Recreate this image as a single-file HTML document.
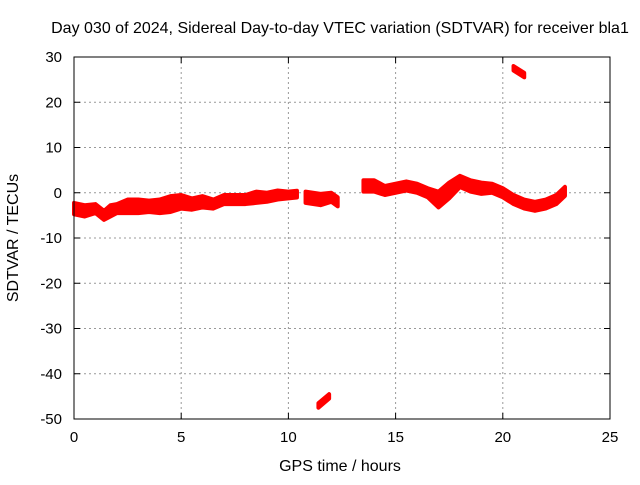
<!DOCTYPE html>
<html><head><meta charset="utf-8"><style>
html,body{margin:0;padding:0;background:#fff;}
svg text{font-family:"Liberation Sans",sans-serif;font-size:15px;fill:#000;}
svg text.big{font-size:16px;}
</style></head><body>
<svg id="chart" width="640" height="480">
<rect x="0" y="0" width="640" height="480" fill="#fff"/>
<g id="grid"></g>
<g id="marks"></g>
<rect x="74" y="57" width="536" height="362" fill="none" stroke="#000" stroke-width="1"/>
<g id="axes"></g>
<text class="big" x="340" y="33" text-anchor="middle">Day 030 of 2024, Sidereal Day-to-day VTEC variation (SDTVAR) for receiver bla1</text>
<text class="big" x="340" y="471" text-anchor="middle">GPS time / hours</text>
<text class="big" x="18" y="238" text-anchor="middle" transform="rotate(-90 18 238)">SDTVAR / TECUs</text>
</svg>
<script>
const xTicks=[0,5,10,15,20,25];
const yTicks=[30,20,10,0,-10,-20,-30,-40,-50];
// segments of [hour, center, spread]
const seg1=[[0,-3.5,2.5],[0.5,-4,2.5],[1.0,-3.5,2],[1.4,-5,2],[1.7,-4,2.5],[2.0,-3.5,2],[2.5,-3,3],[3.0,-3,3],[3.5,-3,2.5],[4.0,-3,3],[4.5,-2.5,3.5],[5.0,-2,3],[5.5,-2.5,2.5],[6.0,-2,2.5],[6.5,-2.5,2],[7.0,-1.5,2],[7.5,-1.5,2],[8.0,-1.5,2],[8.5,-1,2.5],[9.0,-1,2],[9.5,-0.5,2],[10.0,-0.5,1.5],[10.4,-0.3,1.5]];
const seg2=[[10.8,-1,2.5],[11.5,-1.5,2.5],[12.0,-1,2],[12.3,-2,2]];
const seg3=[[13.5,1.5,2.5],[14,1.5,2.5],[14.5,0.5,2],[15,1,2],[15.5,1.5,2],[16,1,2],[16.5,0,2],[17,-1.5,3.5],[17.5,0.5,3.5],[18,2.5,2.5],[18.5,1.5,2.5],[19,1,2.5],[19.5,1,2],[20,0,2],[20.5,-1.5,2],[21,-2.5,2],[21.5,-3,2],[22,-2.5,2],[22.5,-1.5,2],[22.9,0.3,2]];
const seg4=[[20.5,27.5,1],[21.0,26,1]];
const seg5=[[11.4,-47,1],[11.9,-45,1]];
const segments=[seg1,seg2,seg3,seg4,seg5];
const X=v=>74+v*536/25, Y=v=>192.75-v*362/80;
const NS='http://www.w3.org/2000/svg';
const grid=document.getElementById('grid'),axes=document.getElementById('axes'),marks=document.getElementById('marks');
function mk(t,a,p){const e=document.createElementNS(NS,t);for(const k in a)e.setAttribute(k,a[k]);p.appendChild(e);return e;}
xTicks.forEach(t=>{const x=X(t);
 if(t>0&&t<25){const l=mk('line',{x1:x,y1:57,x2:x,y2:419,stroke:'#999','stroke-dasharray':'2,3'},grid);
 
 }
 mk('line',{x1:x,y1:419,x2:x,y2:413,stroke:'#000'},axes);mk('line',{x1:x,y1:57,x2:x,y2:63,stroke:'#000'},axes);
 const tx=mk('text',{x:x,y:442,'text-anchor':'middle'},axes);tx.textContent=t;
 
 });
yTicks.forEach(t=>{const y=Y(t);
 if(t<30&&t>-50){const l=mk('line',{x1:74,y1:y,x2:610,y2:y,stroke:'#999','stroke-dasharray':'2,3'},grid);
 
 }
 mk('line',{x1:74,y1:y,x2:80,y2:y,stroke:'#000'},axes);mk('line',{x1:610,y1:y,x2:604,y2:y,stroke:'#000'},axes);
 const tx=mk('text',{x:62,y:y+5,'text-anchor':'end'},axes);tx.textContent=t;
 
 });
segments.forEach(s=>{const up=s.map(p=>X(p[0])+','+Y(p[1]+p[2]/2));const dn=s.slice().reverse().map(p=>X(p[0])+','+Y(p[1]-p[2]/2));
 const pg=mk('polygon',{points:up.concat(dn).join(' '),fill:'#f00',stroke:'#f00','stroke-width':4,'stroke-linejoin':'round'},marks);
 
 });
</script>
</body></html>
